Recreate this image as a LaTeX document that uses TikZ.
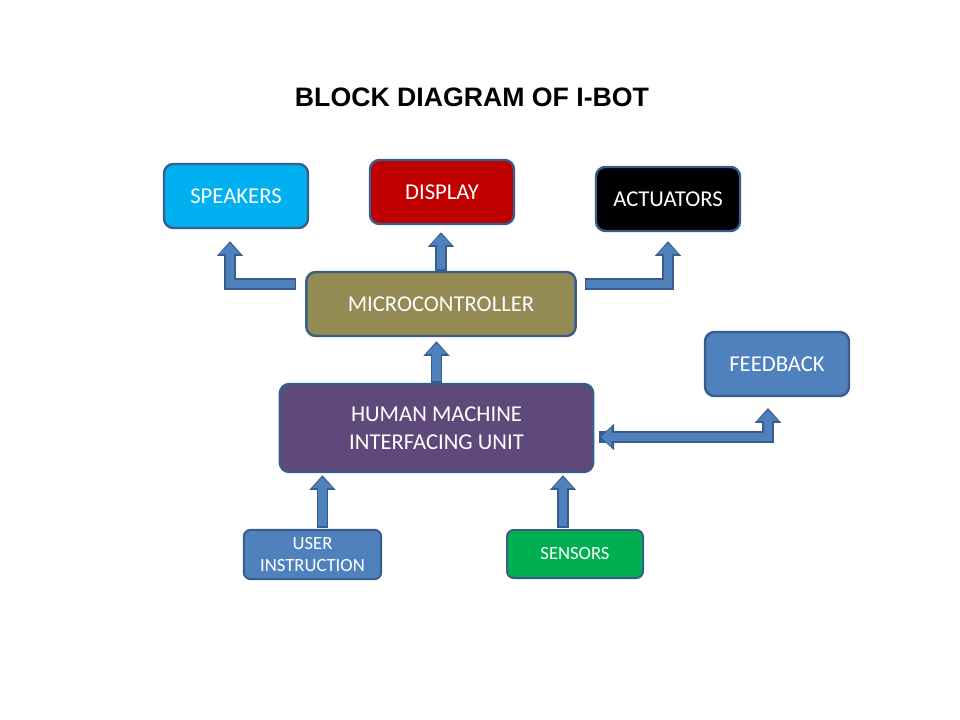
\documentclass[tikz,border=0pt]{standalone}
\usepackage{fontspec}
\setmainfont{Carlito}
\newfontfamily\titlefont{Liberation Sans}
\usepackage{tikz}
\usetikzlibrary{positioning, arrows.meta, calc}
\definecolor{cEdge}{RGB}{56,93,138}
\definecolor{cArrow}{RGB}{79,129,189}
\definecolor{cSpk}{RGB}{0,176,240}
\definecolor{cDisp}{RGB}{192,0,0}
\definecolor{cMcu}{RGB}{148,138,84}
\definecolor{cHmi}{RGB}{95,73,122}
\definecolor{cSens}{RGB}{0,176,80}

\tikzset{
    block/.style={draw=cEdge, line width=1.8pt, rounded corners=7pt, text=white,
        align=center, inner sep=0pt, font=\fontsize{17}{21}\selectfont},
    smallblock/.style={block, line width=1.5pt, rounded corners=5pt,
        font=\fontsize{14}{17}\selectfont},
    barrow/.style={draw=cArrow, line width=6.2pt, line join=miter, shorten >=1.5pt,
        shorten <=1.2pt, -{Triangle[width=15pt,length=8pt]},
        preaction={draw=cEdge, line width=8.8pt, shorten >=0pt, shorten <=0pt,
            -{Triangle[width=19pt,length=11pt]}}},
    bbarrow/.style={barrow, {Triangle[width=15pt,length=8pt]}-{Triangle[width=15pt,length=8pt]},
        preaction={draw=cEdge, line width=8.8pt, shorten >=0pt, shorten <=0pt,
            {Triangle[width=19pt,length=11pt]}-{Triangle[width=19pt,length=11pt]}}}
}

\begin{document}
\begin{tikzpicture}[x=0.75pt, y=-0.75pt]
    \useasboundingbox (0,0) rectangle (960,720);

    % Title
    \node[font=\titlefont\bfseries\fontsize{20}{24}\selectfont] (title) at (472,97) {BLOCK DIAGRAM OF I-BOT};

    % Output blocks
    \node[block, fill=cSpk, minimum width=108pt, minimum height=48pt] (speakers) at (236,196) {SPEAKERS};
    \node[block, fill=cDisp, minimum width=108pt, minimum height=48pt] (display) at (442,192) {DISPLAY};
    \node[block, fill=black, minimum width=108pt, minimum height=48pt] (actuators) at (668,199) {ACTUATORS};

    % Controller and interface
    \node[block, fill=cMcu, minimum width=202pt, minimum height=48pt] (micro) at (441,304) {MICROCONTROLLER};
    \node[block, fill=cHmi, minimum width=235pt, minimum height=66pt] (hmi) at (436.5,428) {HUMAN MACHINE\\INTERFACING UNIT};
    \node[block, fill=cArrow, minimum width=108pt, minimum height=48pt] (feedback) at (777,364) {FEEDBACK};

    % Input blocks
    \node[smallblock, fill=cArrow, minimum width=103pt, minimum height=37pt] (user) at (312.5,554.5) {USER\\INSTRUCTION};
    \node[smallblock, fill=cSens, minimum width=102pt, minimum height=36pt] (sensors) at (575,554) {SENSORS};

    % Arrow end points
    \coordinate (userout) at ($(user.north)+(10,-1)$);
    \coordinate (sensout) at ($(sensors.north)+(-12,-1)$);
    \coordinate (fbin) at ($(feedback.south)+(-9,11)$);

    % Block arrows
    \draw[barrow] ($(micro.north west)+(-9,13)$) -| ($(speakers.south)+(-6,12)$);
    \draw[barrow] (micro.north) -- ($(micro.north |- display.south)+(0,7)$);
    \draw[barrow] ($(micro.north east)+(8,13)$) -| ($(actuators.south)+(0,9)$);
    \draw[barrow] (hmi.north) -- ($(hmi.north |- micro.south)+(0,4)$);
    \draw[barrow] (userout) -- ($(userout |- hmi.south)+(0,2)$);
    \draw[barrow] (sensout) -- ($(sensout |- hmi.south)+(0,2)$);
    \draw[bbarrow] ($(hmi.east)+(5,9)$) -| (fbin);
\end{tikzpicture}
\end{document}
